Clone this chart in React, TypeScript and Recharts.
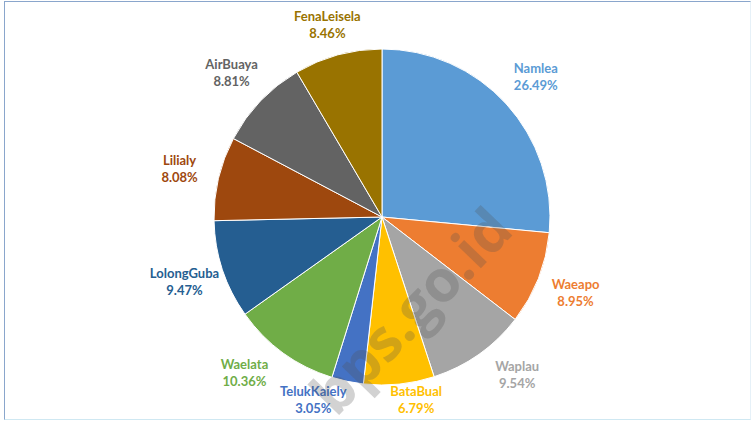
import { PieChart, Pie, Cell } from 'recharts';

// Kecamatan share (%), clockwise from 12 o'clock
const districts = ['Namlea', 'Waeapo', 'Waplau', 'BataBual', 'TelukKaiely', 'Waelata', 'LolongGuba', 'Lilialy', 'AirBuaya', 'FenaLeisela'];
const shares = [26.49, 8.95, 9.54, 6.79, 3.05, 10.36, 9.47, 8.08, 8.81, 8.46];
const colors = ['#5B9BD5', '#ED7D31', '#A5A5A5', '#FFC000', '#4472C4', '#70AD47', '#255E91', '#9E480E', '#636363', '#997300'];

const data = districts.map((name, i) => ({ name, value: shares[i] }));

const RADIAN = Math.PI / 180;

// labels sit outside the pie, kept inside the plot area (roughly like Excel "best fit")
function renderLabel(props: any) {
    const { cx, cy, midAngle, outerRadius, index } = props;
    let angle = midAngle;
    // spread the crowded labels under the pie a little apart
    if (Math.abs(angle + 90) < 50) angle = -90 + (angle + 90) * 1.15;
    const r = outerRadius + 40;
    let x = cx + r * Math.cos(-angle * RADIAN);
    let y = cy + r * Math.sin(-angle * RADIAN);
    if (y > 400) {
        y = 400;
        x = cx + (x - cx) * 1.4;
    }
    if (y < 25) y = 25;
    return (
        <text
            x={x}
            y={y}
            fill={colors[index]}
            textAnchor="middle"
            fontFamily="Lato, 'Open Sans', sans-serif"
            fontWeight={700}
            fontSize={13}
        >
            <tspan x={x} dy={-4}>{districts[index]}</tspan>
            <tspan x={x} dy={17}>{shares[index].toFixed(2)}%</tspan>
        </text>
    );
}

export default function App() {
    return (
        <div
            style={{
                position: 'fixed',
                top: 0,
                left: 0,
                width: 754,
                height: 422,
                background: '#fff',
                overflow: 'hidden',
            }}
        >
            <div
                style={{
                    position: 'absolute',
                    left: 4,
                    top: 1,
                    right: 3,
                    bottom: 2,
                    borderTop: '1px solid #8aa6cc',
                    borderLeft: '1px solid #8aa6cc',
                    borderRight: '1px solid #e6f1f8',
                    borderBottom: '1px solid #cfe8f2',
                }}
            />
            <PieChart width={754} height={422} margin={{ top: 0, right: 0, bottom: 0, left: 0 }}>
                <Pie
                    data={data}
                    dataKey="value"
                    nameKey="name"
                    cx={382}
                    cy={217}
                    outerRadius={168}
                    startAngle={90}
                    endAngle={-270}
                    stroke="#ffffff"
                    strokeWidth={1}
                    label={renderLabel}
                    labelLine={false}
                    isAnimationActive={false}
                >
                    {data.map((d, i) => (
                        <Cell key={d.name} fill={colors[i]} />
                    ))}
                </Pie>
            </PieChart>
            <div
                style={{
                    position: 'absolute',
                    left: 410,
                    top: 310,
                    fontFamily: "'Open Sans', sans-serif",
                    fontWeight: 700,
                    fontSize: 58,
                    lineHeight: 1,
                    color: 'rgba(80, 80, 80, 0.26)',
                    transform: 'translate(-50%, -50%) rotate(-46deg)',
                    transformOrigin: 'center',
                    whiteSpace: 'nowrap',
                    pointerEvents: 'none',
                }}
            >
                bps.go.id
            </div>
        </div>
    );
}
